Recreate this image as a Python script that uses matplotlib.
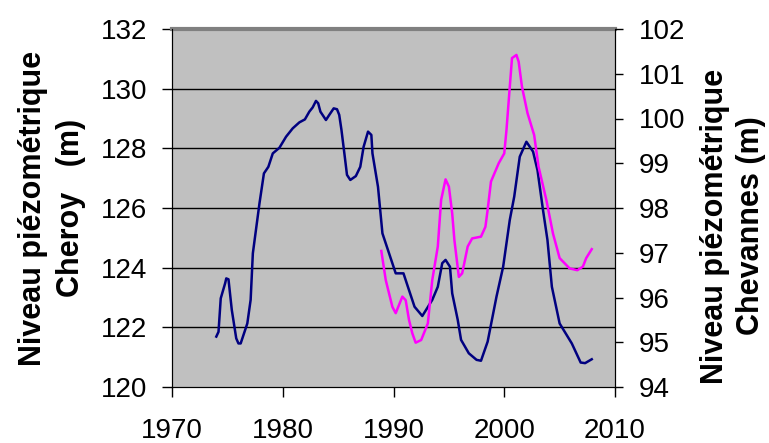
import matplotlib.pyplot as plt

plt.rcParams['font.family'] = ['Liberation Sans', 'DejaVu Sans']

# Cheroy (left axis)
annees_cheroy = [1974.0, 1974.2, 1974.4, 1974.8, 1974.9, 1975.1, 1975.4, 1975.8, 1976.0, 1976.2,
                 1976.8, 1977.1, 1977.3, 1977.7, 1977.9, 1978.3, 1978.7, 1979.1, 1979.7, 1980.3,
                 1980.9, 1981.5, 1982.0, 1982.4, 1982.7, 1983.0, 1983.2, 1983.4, 1983.9, 1984.2,
                 1984.6, 1984.9, 1985.1, 1985.3, 1985.6, 1985.8, 1986.1, 1986.6, 1987.0, 1987.3,
                 1987.7, 1988.0, 1988.1, 1988.6, 1989.0, 1989.6, 1990.2, 1990.9, 1991.3, 1991.9,
                 1992.6, 1993.5, 1994.0, 1994.4, 1994.7, 1995.1, 1995.3, 1995.8, 1996.1, 1996.8,
                 1997.5, 1997.9, 1998.5, 1999.3, 1999.9, 2000.5, 2000.9, 2001.4, 2002.0, 2002.6,
                 2003.0, 2003.5, 2003.9, 2004.3, 2005.0, 2006.1, 2006.9, 2007.3, 2007.9]
niveau_cheroy = [121.69, 121.85, 122.97, 123.48, 123.64, 123.61, 122.58, 121.63, 121.46, 121.46,
                 122.13, 122.92, 124.48, 125.6, 126.16, 127.16, 127.38, 127.83, 128.02, 128.39,
                 128.67, 128.87, 128.97, 129.23, 129.37, 129.59, 129.51, 129.23, 128.95, 129.12,
                 129.34, 129.31, 129.12, 128.62, 127.72, 127.11, 126.94, 127.07, 127.38, 128.05,
                 128.56, 128.45, 127.83, 126.71, 125.15, 124.48, 123.81, 123.81, 123.36, 122.69,
                 122.38, 122.92, 123.36, 124.15, 124.26, 124.03, 123.14, 122.25, 121.58, 121.13,
                 120.91, 120.88, 121.52, 123.03, 124.03, 125.6, 126.38, 127.72, 128.22, 127.89,
                 127.27, 125.93, 124.93, 123.36, 122.13, 121.46, 120.82, 120.8, 120.93]

# Chevannes (right axis)
annees_chev = [1988.9, 1989.3, 1989.9, 1990.2, 1990.8, 1991.1, 1991.4, 1991.7, 1992.0, 1992.5,
               1993.1, 1993.5, 1994.0, 1994.3, 1994.7, 1995.0, 1995.3, 1995.5, 1995.9, 1996.2,
               1996.7, 1997.1, 1997.9, 1998.3, 1998.5, 1998.8, 1999.5, 2000.0, 2000.2, 2000.5,
               2000.7, 2001.1, 2001.3, 2001.6, 2002.1, 2002.7, 2003.1, 2003.8, 2004.4, 2005.0,
               2005.9, 2006.6, 2007.1, 2007.4, 2007.9]
niveau_chev = [97.04, 96.39, 95.79, 95.65, 96.02, 95.94, 95.5, 95.2, 94.99, 95.05,
               95.42, 96.39, 97.14, 98.18, 98.64, 98.48, 97.88, 97.28, 96.46, 96.54,
               97.14, 97.32, 97.36, 97.58, 97.96, 98.59, 99.0, 99.22, 99.74, 100.71,
               101.35, 101.42, 101.27, 100.71, 100.12, 99.63, 98.92, 98.18, 97.43, 96.88,
               96.65, 96.61, 96.69, 96.88, 97.08]

W, H = 769, 443
fig = plt.figure(figsize=(W / 100, H / 100), dpi=100)
ax = fig.add_axes([172/W, 1-387/H, 443/W, 358/H])
ax.set_facecolor('#c0c0c0')
ax.plot(annees_cheroy, niveau_cheroy, color='#000080', lw=1.8, zorder=3)
ax.set_xlim(1970, 2010)
ax.set_ylim(120, 132)
ax.set_xticks(range(1970, 2011, 10))
ax.set_yticks(range(120, 133, 2))
for v in range(122, 132, 2):
    ax.axhline(v, color='black', lw=1, zorder=1)
ax.tick_params(direction='out', length=7, labelsize=20, width=1, pad=11)
ax.tick_params(axis='x', length=7, pad=15)
ax.spines['top'].set_color('#808080')
ax.spines['top'].set_linewidth(3)

ax2 = ax.twinx()
ax2.plot(annees_chev, niveau_chev, color='#ff00ff', lw=1.8, zorder=3)
ax2.set_ylim(94, 102)
ax2.set_yticks(range(94, 103))
ax2.tick_params(direction='out', length=6, labelsize=20, width=1, pad=11)
ax2.spines['top'].set_visible(False)

fig.text(52/W, 1-208/H, 'Niveau piézométrique\nCheroy   (m)', rotation=90, ha='center',
         va='center', multialignment='center', fontsize=22, fontweight='bold', linespacing=1.35)
fig.text(733/W, 1-226/H, 'Niveau piézométrique\nChevannes (m)', rotation=90, ha='center',
         va='center', multialignment='center', fontsize=22, fontweight='bold', linespacing=1.3)

fig.savefig('out.png', dpi=100)
